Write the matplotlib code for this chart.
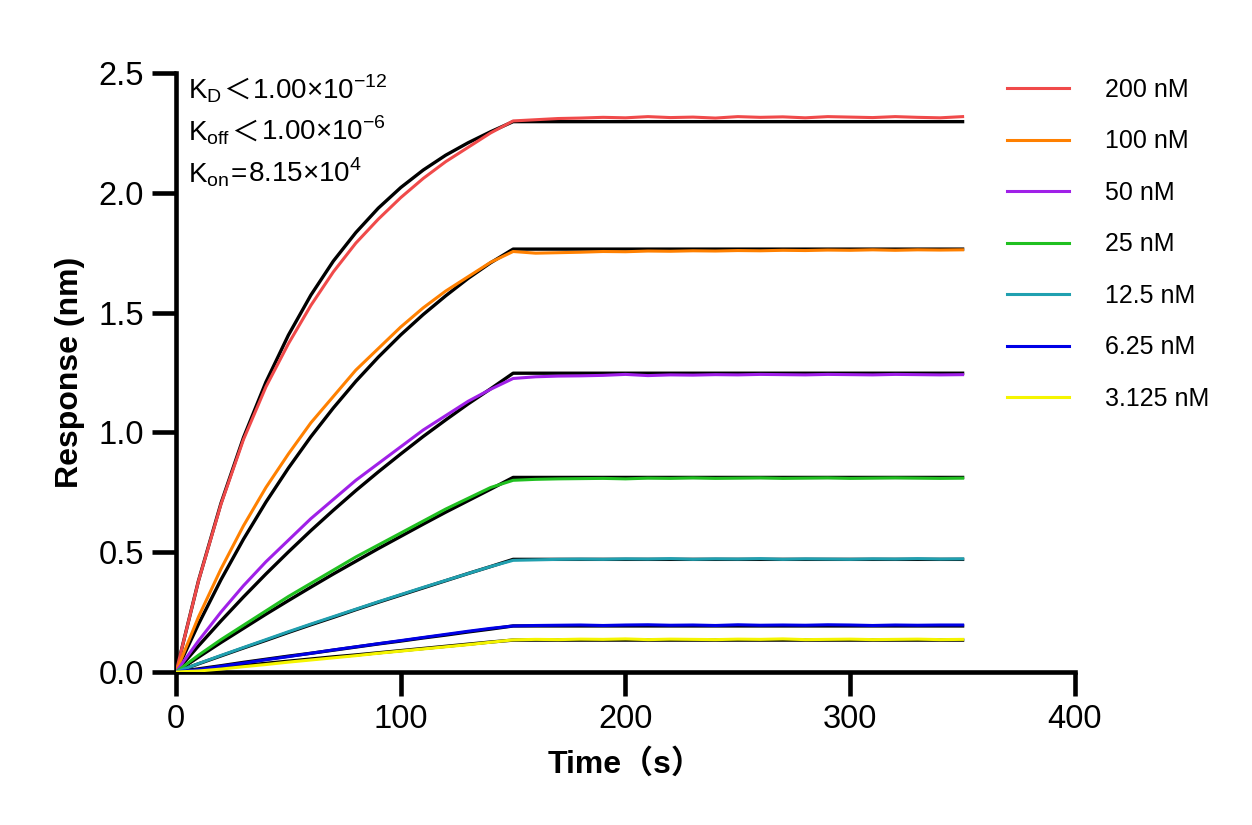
import matplotlib
matplotlib.use("Agg")
import matplotlib.pyplot as plt
from matplotlib.offsetbox import TextArea, HPacker, VPacker, AnnotationBbox

plt.rcParams['font.family'] = ['Liberation Sans', 'Noto Sans CJK SC', 'DejaVu Sans']
plt.rcParams['mathtext.fontset'] = 'custom'
plt.rcParams['mathtext.rm'] = 'Liberation Sans'

# time points (s): association phase and dissociation (plateau) phase
t_assoc = [0, 10, 20, 30, 40, 50, 60, 70, 80, 90, 100, 110, 120, 130, 140, 150]
t_dissoc = [150, 160, 170, 180, 190, 200, 210, 220, 230, 240, 250,
            260, 270, 280, 290, 300, 310, 320, 330, 340, 350]

labels = ['200 nM', '100 nM', '50 nM', '25 nM', '12.5 nM', '6.25 nM', '3.125 nM']
colors = ['#F04A4A', '#FF8000', '#A020E8', '#20C020', '#20A0B0', '#0000E6', '#F5F500']

# measured response, association phase
meas_200 = [0, 0.38, 0.70, 0.97, 1.19, 1.37, 1.53, 1.67, 1.79, 1.89, 1.98, 2.06, 2.13, 2.19, 2.25, 2.30]
meas_100 = [0, 0.23, 0.43, 0.61, 0.77, 0.91, 1.04, 1.15, 1.26, 1.35, 1.44, 1.52, 1.59, 1.65, 1.71, 1.755]
meas_50 = [0, 0.13, 0.25, 0.36, 0.46, 0.55, 0.64, 0.72, 0.80, 0.87, 0.94, 1.01, 1.07, 1.13, 1.18, 1.225]
meas_25 = [0, 0.07, 0.135, 0.195, 0.255, 0.315, 0.37, 0.425, 0.48, 0.53, 0.58, 0.63, 0.68, 0.725, 0.77, 0.80]
meas_12 = [0, 0.035, 0.069, 0.102, 0.135, 0.168, 0.200, 0.231, 0.262, 0.293, 0.323, 0.353, 0.382, 0.411, 0.440, 0.466]
meas_6 = [0, 0.010, 0.024, 0.037, 0.051, 0.064, 0.078, 0.092, 0.105, 0.118, 0.131, 0.144, 0.157, 0.170, 0.182, 0.192]
meas_3 = [0, 0.004, 0.012, 0.022, 0.031, 0.041, 0.050, 0.059, 0.068, 0.078, 0.087, 0.096, 0.105, 0.114, 0.124, 0.134]

# measured response, dissociation phase
diss_200 = [2.300, 2.305, 2.310, 2.312, 2.315, 2.313, 2.318, 2.314, 2.316, 2.312, 2.318,
            2.315, 2.317, 2.313, 2.318, 2.316, 2.314, 2.318, 2.315, 2.313, 2.318]
diss_100 = [1.752, 1.748, 1.750, 1.752, 1.755, 1.754, 1.757, 1.756, 1.758, 1.757, 1.759,
            1.758, 1.760, 1.759, 1.761, 1.760, 1.762, 1.760, 1.762, 1.761, 1.762]
diss_50 = [1.228, 1.232, 1.235, 1.236, 1.238, 1.242, 1.237, 1.240, 1.239, 1.241, 1.240,
           1.242, 1.241, 1.240, 1.242, 1.241, 1.240, 1.242, 1.241, 1.240, 1.241]
diss_25 = [0.800, 0.804, 0.806, 0.807, 0.808, 0.806, 0.809, 0.808, 0.810, 0.808, 0.809,
           0.810, 0.808, 0.809, 0.810, 0.808, 0.809, 0.810, 0.809, 0.808, 0.809]
diss_12 = [0.465, 0.468, 0.470, 0.471, 0.470, 0.472, 0.471, 0.473, 0.470, 0.472, 0.471,
           0.473, 0.470, 0.472, 0.471, 0.470, 0.472, 0.471, 0.473, 0.471, 0.472]
diss_6 = [0.192, 0.194, 0.195, 0.196, 0.194, 0.196, 0.197, 0.195, 0.196, 0.194, 0.197,
          0.195, 0.196, 0.195, 0.197, 0.196, 0.194, 0.196, 0.195, 0.196, 0.196]
diss_3 = [0.134, 0.136, 0.135, 0.137, 0.136, 0.138, 0.135, 0.137, 0.136, 0.135, 0.137,
          0.136, 0.138, 0.135, 0.136, 0.137, 0.135, 0.136, 0.137, 0.135, 0.136]

# fitted curves (black), association phase
fit_200 = [0, 0.381, 0.704, 0.978, 1.210, 1.406, 1.573, 1.715, 1.834, 1.936, 2.022, 2.095, 2.157, 2.209, 2.255, 2.297]
fit_100 = [0, 0.200, 0.385, 0.554, 0.709, 0.851, 0.982, 1.102, 1.213, 1.314, 1.407, 1.492, 1.570, 1.643, 1.708, 1.765]
fit_50 = [0, 0.109, 0.213, 0.313, 0.409, 0.501, 0.590, 0.675, 0.757, 0.835, 0.910, 0.983, 1.052, 1.119, 1.182, 1.247]
fit_25 = [0, 0.062, 0.123, 0.182, 0.241, 0.298, 0.354, 0.409, 0.462, 0.515, 0.566, 0.617, 0.667, 0.715, 0.763, 0.812]
fit_12 = [0, 0.034, 0.067, 0.100, 0.132, 0.165, 0.197, 0.228, 0.260, 0.291, 0.321, 0.351, 0.381, 0.411, 0.440, 0.470]
fit_6 = [0, 0.013, 0.026, 0.040, 0.053, 0.066, 0.078, 0.091, 0.104, 0.117, 0.129, 0.142, 0.154, 0.167, 0.179, 0.192]
fit_3 = [0, 0.009, 0.018, 0.027, 0.036, 0.045, 0.054, 0.063, 0.071, 0.080, 0.089, 0.098, 0.107, 0.116, 0.125, 0.133]

meas_assoc = [meas_200, meas_100, meas_50, meas_25, meas_12, meas_6, meas_3]
meas_diss = [diss_200, diss_100, diss_50, diss_25, diss_12, diss_6, diss_3]
fits = [fit_200, fit_100, fit_50, fit_25, fit_12, fit_6, fit_3]

# kinetic constants text: (name, relation, value, exponent)
kin_rows = [('D', '＜', '1.00×10', '-12'),
            ('off', '＜', '1.00×10', '-6'),
            ('on', '=', '8.15×10', '4')]

fig = plt.figure(figsize=(12.52, 8.25), dpi=100)
ax = fig.add_axes([0.1406, 0.1855, 0.718, 0.726])

for ma, md, ft, c, lab in zip(meas_assoc, meas_diss, fits, colors, labels):
    ax.plot(t_assoc + t_dissoc, ft + [ft[-1]] * len(t_dissoc), color='black', lw=2.4, zorder=2)
    ax.plot(t_assoc + t_dissoc[1:], ma + md[1:], color=c, lw=2.2, label=lab, zorder=3)

ax.set_xlim(0, 400)
ax.set_ylim(0, 2.5)
ax.set_xticks([0, 100, 200, 300, 400])
ax.set_yticks([0.0, 0.5, 1.0, 1.5, 2.0, 2.5])
ax.set_yticklabels(['0.0', '0.5', '1.0', '1.5', '2.0', '2.5'])
for s in ['top', 'right']:
    ax.spines[s].set_visible(False)
for s in ['left', 'bottom']:
    ax.spines[s].set_linewidth(3.3)
ax.tick_params(axis='both', direction='out', length=17, width=3.3, labelsize=23.5, pad=6)

ax.set_xlabel('Time（s）', fontsize=23, fontweight='bold', labelpad=10)
ax.set_ylabel('Response (nm)', fontsize=23, fontweight='bold', labelpad=10)

rows = []
fs = 20
for name, rel, val, ex in kin_rows:
    parts = [TextArea(r'K$_\mathregular{%s}$' % name, textprops=dict(fontsize=fs)),
             TextArea(rel, textprops=dict(fontsize=fs)),
             TextArea(r'%s$^\mathregular{%s}$' % (val, ex), textprops=dict(fontsize=fs))]
    rows.append(HPacker(children=parts, align='baseline', pad=0, sep=1))
box = VPacker(children=rows, align='left', pad=0, sep=9)
ab = AnnotationBbox(box, (0.013, 0.995), xycoords=ax.transAxes, box_alignment=(0, 1),
                    frameon=False, pad=0)
ax.add_artist(ab)

fig.legend(loc='upper left', bbox_to_anchor=(0.786, 0.933), frameon=False, fontsize=18,
           handlelength=2.5, handletextpad=1.45, labelspacing=1.1)

fig.savefig('out.png', dpi=100)
